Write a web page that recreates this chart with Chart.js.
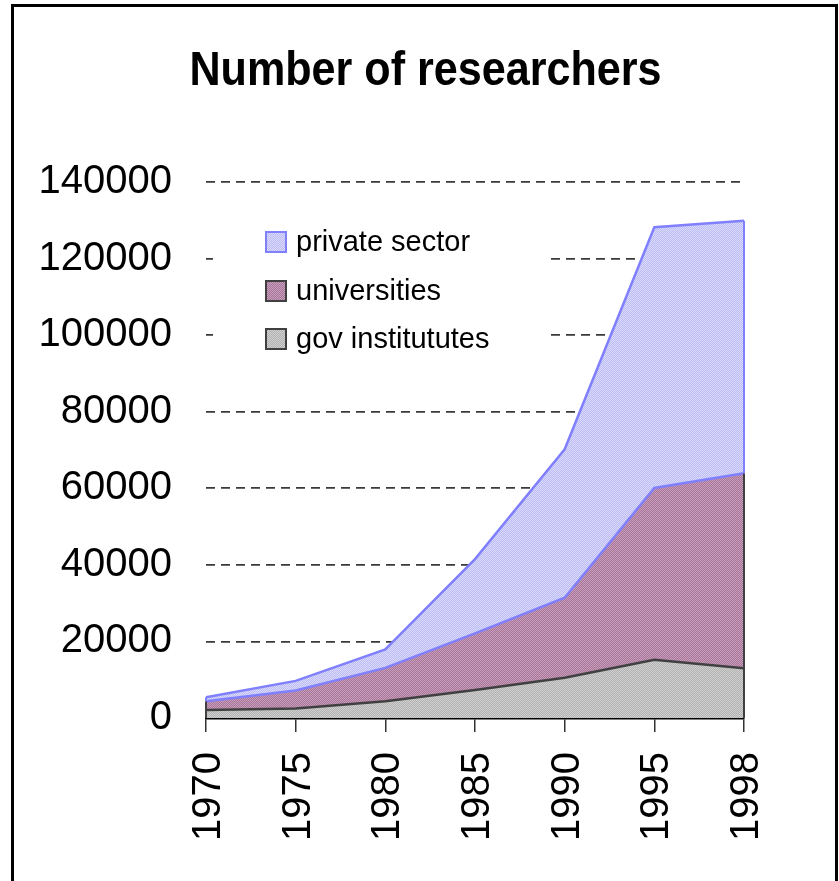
<!DOCTYPE html>
<html>
<head>
<meta charset="utf-8">
<script src="https://cdn.jsdelivr.net/npm/chart.js@4/dist/chart.umd.min.js"></script>
<style>
  html, body { margin: 0; padding: 0; background: #ffffff; }
  #wrap { width: 839px; height: 881px; }
</style>
</head>
<body>
<div id="wrap"><canvas id="c" width="839" height="881"></canvas></div>
<script>
// ---- data ----
const years = ["1970", "1975", "1980", "1985", "1990", "1995", "1998"];
const govInstitutes = [2100, 2500, 4400, 7300, 10500, 15200, 13000];
const universities = [2300, 4700, 8700, 14800, 20900, 44900, 50900];
const privateSector = [1000, 2500, 4800, 19400, 38800, 68100, 66000];
const seriesNames = ["gov institututes", "universities", "private sector"];
const yTicks = [0, 20000, 40000, 60000, 80000, 100000, 120000, 140000];
const chartTitle = "Number of researchers";

// ---- dithered fill patterns ----
function dither(c1, c2) {
  const cv = document.createElement('canvas');
  cv.width = 2; cv.height = 2;
  const g = cv.getContext('2d');
  g.fillStyle = c1; g.fillRect(0, 0, 2, 2);
  g.fillStyle = c2; g.fillRect(0, 0, 1, 1); g.fillRect(1, 1, 1, 1);
  return g.createPattern(cv, 'repeat');
}
const govFill = dither('#b2b2b2', '#cfcfcf');
const uniFill = dither('#a97599', '#c69dbb');
const privFill = dither('#bcbcf2', '#dadafb');

const FONT = "'Liberation Sans', Arial, sans-serif";

// frame + title plugin
const framePlugin = {
  id: 'frame',
  beforeDraw(chart) {
    const ctx = chart.ctx;
    ctx.save();
    ctx.fillStyle = '#ffffff';
    ctx.fillRect(0, 0, chart.width, chart.height);
    ctx.strokeStyle = '#000000';
    ctx.lineWidth = 3;
    ctx.beginPath();
    ctx.moveTo(12.5, 900);
    ctx.lineTo(12.5, 5.5);
    ctx.lineTo(836.5, 5.5);
    ctx.lineTo(836.5, 900);
    ctx.stroke();
    // title (slightly condensed like the original)
    ctx.fillStyle = '#000000';
    ctx.font = "bold 49px " + FONT;
    ctx.textAlign = 'center';
    ctx.textBaseline = 'alphabetic';
    ctx.translate(425.5, 85);
    ctx.scale(0.88, 1);
    ctx.fillText(chartTitle, 0, 0);
    ctx.restore();
  }
};

// vertical edges of the areas at the first and last category
const edgePlugin = {
  id: 'edges',
  afterDatasetsDraw(chart) {
    const ctx = chart.ctx;
    const xs = chart.scales.x, ys = chart.scales.y;
    const n = years.length;
    ctx.save();
    [0, n - 1].forEach(i => {
      const x = xs.getPixelForValue(i);
      const g = govInstitutes[i];
      const u = g + universities[i];
      const p = u + privateSector[i];
      ctx.lineWidth = 2;
      ctx.strokeStyle = '#404040';
      ctx.beginPath();
      ctx.moveTo(x, ys.getPixelForValue(0));
      ctx.lineTo(x, ys.getPixelForValue(u));
      ctx.stroke();
      ctx.strokeStyle = '#8080ff';
      ctx.beginPath();
      ctx.moveTo(x, ys.getPixelForValue(u));
      ctx.lineTo(x, ys.getPixelForValue(p));
      ctx.stroke();
    });
    ctx.restore();
  }
};

// legend drawn inside the plot area, on a white box
const legendPlugin = {
  id: 'innerLegend',
  afterDraw(chart) {
    const ctx = chart.ctx;
    ctx.save();
    ctx.fillStyle = '#ffffff';
    ctx.fillRect(213, 214, 332, 148);
    const items = [
      { name: seriesNames[2], fill: privFill, border: '#8080ff', y: 242 },
      { name: seriesNames[1], fill: uniFill, border: '#404040', y: 291 },
      { name: seriesNames[0], fill: govFill, border: '#404040', y: 339 }
    ];
    items.forEach(it => {
      ctx.fillStyle = it.fill;
      ctx.fillRect(266, it.y - 10, 20, 20);
      ctx.strokeStyle = it.border;
      ctx.lineWidth = 2;
      ctx.strokeRect(266, it.y - 10, 20, 20);
      ctx.fillStyle = '#000000';
      ctx.font = "29px " + FONT;
      ctx.textAlign = 'left';
      ctx.textBaseline = 'middle';
      ctx.fillText(it.name, 296, it.y + 1);
    });
    ctx.restore();
  }
};

new Chart(document.getElementById('c'), {
  type: 'line',
  data: {
    labels: years,
    datasets: [
      {
        label: seriesNames[0],
        data: govInstitutes,
        fill: 'origin',
        backgroundColor: govFill,
        borderColor: '#404040',
        borderWidth: 2.5,
        pointRadius: 0,
        tension: 0
      },
      {
        label: seriesNames[1],
        data: universities,
        fill: '-1',
        backgroundColor: uniFill,
        borderColor: '#8080ff',
        borderWidth: 2.5,
        pointRadius: 0,
        tension: 0
      },
      {
        label: seriesNames[2],
        data: privateSector,
        fill: '-1',
        backgroundColor: privFill,
        borderColor: '#8080ff',
        borderWidth: 2.5,
        pointRadius: 0,
        tension: 0
      }
    ]
  },
  options: {
    responsive: false,
    animation: false,
    devicePixelRatio: 1,
    layout: { padding: { left: 0, right: 95, top: 182, bottom: 0 } },
    plugins: {
      legend: { display: false },
      title: { display: false },
      tooltip: { enabled: false }
    },
    scales: {
      x: {
        offset: false,
        border: { display: true, color: '#000000', width: 2.5 },
        grid: {
          display: true,
          drawOnChartArea: false,
          drawTicks: true,
          tickLength: 14,
          color: '#333333',
          lineWidth: 1.5
        },
        ticks: {
          minRotation: 90,
          maxRotation: 90,
          padding: 20,
          labelOffset: 3,
          color: '#000000',
          font: { family: FONT, size: 40 }
        },
        afterFit(scale) { scale.height = 163; }
      },
      y: {
        stacked: true,
        min: 0,
        max: 140000,
        afterBuildTicks(scale) {
          scale.ticks = yTicks.map(v => ({ value: v }));
        },
        grid: {
          drawTicks: false,
          color: '#3a3a3a',
          lineWidth: 1.8
        },
        border: { display: false, dash: [9, 6] },
        ticks: {
          padding: 34,
          color: '#000000',
          font: { family: FONT, size: 40 },
          callback: v => String(v)
        },
        afterFit(scale) { scale.width = 206; }
      }
    }
  },
  plugins: [framePlugin, edgePlugin, legendPlugin]
});
</script>
</body>
</html>
